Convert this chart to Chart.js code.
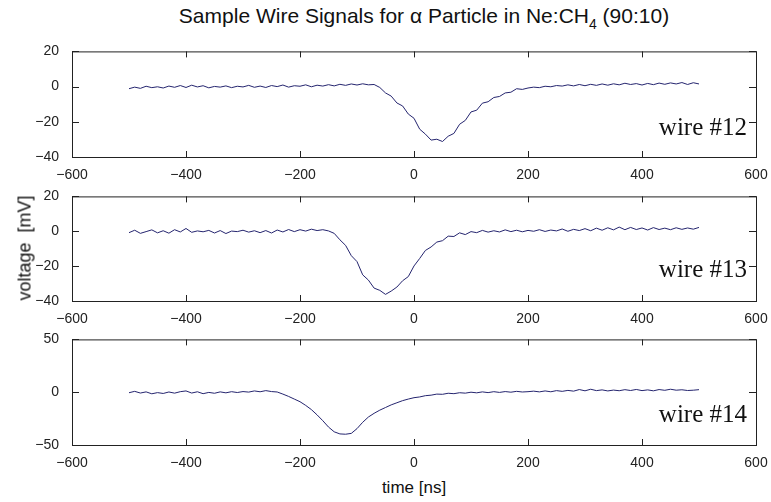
<!DOCTYPE html>
<html>
<head>
<meta charset="utf-8">
<script src="https://cdn.jsdelivr.net/npm/chart.js@4"></script>
<style>
  body { margin: 0; background: #fff; }
  #wrap { position: relative; width: 771px; height: 502px; overflow: hidden; font-family: "Liberation Sans", Arial, sans-serif; color: #111; }
  canvas { position: absolute; left: 0; }
  .title { position: absolute; top: 4px; left: 0; width: 848px; text-align: center; font-size: 21px; white-space: nowrap; }
  .title sub { font-size: 14px; vertical-align: -6px; line-height: 0; }
  .ylab { position: absolute; left: 25px; top: 248px; transform: translate(-50%, -50%) rotate(-90deg); font-size: 18px; white-space: pre; }
  .xlab { position: absolute; left: 414px; top: 478px; transform: translateX(-50%); font-size: 17px; white-space: nowrap; }
</style>
</head>
<body>
<div id="wrap">
  <div class="title">Sample Wire Signals for α Particle in Ne:CH<sub>4</sub> (90:10)</div>
  <canvas id="c12" width="771" height="149" style="top:38px"></canvas>
  <canvas id="c13" width="771" height="148" style="top:183px"></canvas>
  <canvas id="c14" width="771" height="149" style="top:326px"></canvas>
  <div class="ylab">voltage  [mV]</div>
  <div class="xlab">time [ns]</div>
</div>
<script>
// time samples [ns]
const times = [-500, -490, -480, -470, -460, -450, -440, -430, -420, -410,
  -400, -390, -380, -370, -360, -350, -340, -330, -320, -310,
  -300, -290, -280, -270, -260, -250, -240, -230, -220, -210,
  -200, -190, -180, -170, -160, -150, -140, -130, -120, -110,
  -100, -90, -80, -70, -60, -50, -40, -30, -20, -10,
  0, 10, 20, 30, 40, 50, 60, 70, 80, 90,
  100, 110, 120, 130, 140, 150, 160, 170, 180, 190,
  200, 210, 220, 230, 240, 250, 260, 270, 280, 290,
  300, 310, 320, 330, 340, 350, 360, 370, 380, 390,
  400, 410, 420, 430, 440, 450, 460, 470, 480, 490, 500];

// voltages [mV]
const wire12 = [-1.2, -0.3, -1.0, 0.2, -0.6, -0.1, -0.8, 0.3, -0.4, 0.6,
  -0.5, 0.8, -0.2, 0.5, -0.7, 0.1, -0.3, 0.4, -0.6, 0.2,
  -0.2, 0.7, -0.4, 0.3, -0.5, 0.6, 0.0, 0.9, -0.3, 0.5,
  0.2, 1.0, -0.1, 0.8, 0.3, 1.1, 0.4, 1.3, 0.7, 1.5,
  0.9, 1.6, 1.0, 1.2, -0.5, -3.6, -5.4, -9.3, -11.0, -15.6,
  -18.0, -24.2, -27.0, -30.4, -29.9, -31.2, -28.2, -26.6, -21.4, -19.2,
  -14.4, -13.4, -9.4, -8.6, -6.2, -5.6, -3.6, -3.2, -1.2, -1.6,
  -0.8, -0.3, -0.6, 0.2, -0.1, 0.6, 0.3, 1.0, 0.4, 1.2,
  0.5, 1.3, 0.7, 1.5, 0.8, 1.6, 1.0, 1.9, 1.2, 1.7,
  0.9, 1.8, 1.1, 2.0, 1.3, 2.1, 1.5, 2.3, 1.2, 2.2, 1.5];

const wire13 = [-0.8, 0.6, -1.2, -0.2, 0.8, -0.9, 0.3, -1.1, 0.9, -0.4,
  1.6, -0.6, 0.2, -0.3, 0.5, -1.0, 0.4, -1.3, 0.1, -0.2,
  0.6, -0.5, 0.3, -0.8, 0.4, -1.0, 0.7, -0.4, 1.0, -0.2,
  0.9, 0.1, 1.2, 0.4, 0.9, 0.2, -1.2, -4.9, -8.1, -14.0,
  -17.4, -25.0, -28.0, -32.6, -33.9, -36.2, -34.3, -32.0, -28.4, -26.0,
  -19.9, -15.6, -11.0, -9.0, -6.2, -5.4, -2.8, -3.0, -0.9, -1.9,
  -0.2, -0.8, 0.5, -0.5, 0.3, -0.4, 0.8, -0.2, 0.6, -0.3,
  0.5, 0.0, 0.9, -0.1, 0.7, 0.2, 1.3, 0.0, 1.1, 0.4,
  1.5, 0.3, 1.8, 0.6, 2.0, 0.8, 2.4, 0.9, 2.2, 1.0,
  1.9, 0.7, 2.1, 1.0, 1.8, 0.9, 2.0, 1.1, 1.9, 1.2, 2.2];

const wire14 = [-0.5, 0.8, -0.8, 0.3, -1.5, -0.4, -1.2, 0.2, -0.9, 0.5,
  1.2, -0.8, 0.4, -1.4, -0.2, -1.0, 0.3, -0.6, 0.5, -0.3,
  0.6, 0.1, 1.2, 0.4, 1.5, 0.6, 0.2, -1.8, -4.0, -6.5,
  -9.0, -12.5, -16.5, -21.5, -27.0, -33.0, -37.5, -39.5, -39.8, -39.0,
  -34.5, -28.5, -23.5, -20.0, -17.0, -14.5, -12.0, -10.0, -8.0, -6.5,
  -5.2, -4.5, -3.3, -2.8, -1.8, -2.0, -1.0, -1.4, -0.5, -0.9,
  0.0, -0.6, 0.3, -0.4, 0.5, -0.2, 0.6, 0.0, 0.8, 0.2,
  0.5, 1.0, 0.3, 1.2, 0.4, 1.5, 0.8, 1.7, 1.0, 2.5,
  1.3, 2.8, 1.5, 2.2, 1.2, 2.0, 1.4, 2.4, 1.6, 2.6,
  1.5, 2.2, 1.3, 2.5, 1.8, 2.8, 1.9, 2.3, 1.6, 1.9, 2.4];

const xTicks = [-600, 600, 200];   // min, max, step
const yTicksTop = [-40, 20, 20];
const yTicksMid = [-40, 20, 20];
const yTicksBot = [-50, 50, 50];

const lineColor = '#24246e';
const axisColor = '#222';

// MATLAB-like box with inward ticks and the wire label
const boxPlugin = {
  id: 'matlabBox',
  afterDraw(chart, args, opts) {
    const { ctx, chartArea: a, scales: { x, y } } = chart;
    ctx.save();
    ctx.strokeStyle = axisColor;
    ctx.lineWidth = 1;
    ctx.strokeRect(a.left + 0.5, a.top + 0.5, a.right - a.left, a.bottom - a.top);
    ctx.beginPath();
    x.ticks.forEach(t => {
      const px = Math.round(x.getPixelForValue(t.value)) + 0.5;
      ctx.moveTo(px, a.bottom); ctx.lineTo(px, a.bottom - 6);
      ctx.moveTo(px, a.top); ctx.lineTo(px, a.top + 6);
    });
    y.ticks.forEach(t => {
      const py = Math.round(y.getPixelForValue(t.value)) + 0.5;
      ctx.moveTo(a.left, py); ctx.lineTo(a.left + 7, py);
      ctx.moveTo(a.right, py); ctx.lineTo(a.right - 7, py);
    });
    ctx.stroke();
    ctx.font = '25px "Liberation Serif", "Times New Roman", serif';
    ctx.fillStyle = '#111';
    ctx.textAlign = 'right';
    ctx.textBaseline = 'alphabetic';
    ctx.fillText(opts.label, a.right - 9, a.bottom - opts.gap);
    ctx.restore();
  }
};

const minus = v => String(v).replace('-', '\u2212');
const tickFont = { family: '"Liberation Sans", Arial, sans-serif', size: 14 };

function makePanel(id, values, yTicks, label, gap) {
  new Chart(document.getElementById(id), {
    type: 'line',
    data: {
      datasets: [{
        data: times.map((t, i) => ({ x: t, y: values[i] })),
        borderColor: lineColor,
        borderWidth: 1,
        pointRadius: 0,
        tension: 0,
        fill: false
      }]
    },
    options: {
      responsive: false,
      animation: false,
      devicePixelRatio: 1,
      layout: { padding: { top: 10, right: 15, left: 0, bottom: 0 } },
      plugins: {
        legend: { display: false },
        tooltip: { enabled: false },
        matlabBox: { label: label, gap: gap }
      },
      scales: {
        x: {
          type: 'linear',
          min: xTicks[0], max: xTicks[1],
          grid: { display: false },
          border: { display: false },
          afterFit: s => { s.height = 30; },
          ticks: {
            stepSize: xTicks[2], autoSkip: false, maxRotation: 0,
            padding: 2, color: axisColor, font: tickFont,
            callback: v => minus(v)
          }
        },
        y: {
          type: 'linear',
          min: yTicks[0], max: yTicks[1],
          grid: { display: false },
          border: { display: false },
          afterFit: s => { s.width = 72; },
          ticks: {
            stepSize: yTicks[2], padding: 5, color: axisColor, font: tickFont,
            callback: v => minus(v)
          }
        }
      }
    },
    plugins: [boxPlugin]
  });
}

makePanel('c12', wire12, yTicksTop, 'wire #12', 22);
makePanel('c13', wire13, yTicksMid, 'wire #13', 24);
makePanel('c14', wire14, yTicksBot, 'wire #14', 23);
</script>
</body>
</html>
